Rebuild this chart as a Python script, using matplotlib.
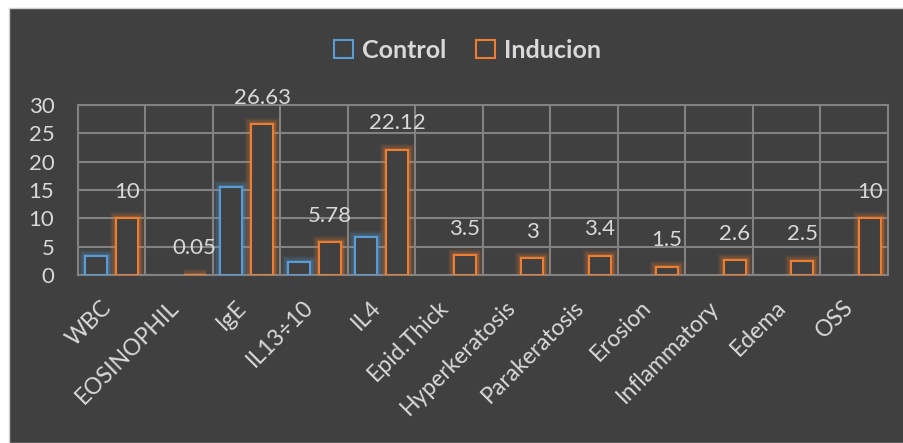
import numpy as np
import matplotlib
matplotlib.use('Agg')
from matplotlib import pyplot as plt
from matplotlib.patches import Patch, Rectangle
import matplotlib.patheffects as pe
import matplotlib.transforms as mtransforms

categories = ['WBC', 'EOSINOPHIL', 'IgE', 'IL13÷10', 'IL4', 'Epid.Thick',
              'Hyperkeratosis', 'Parakeratosis', 'Erosion', 'Inflammatory',
              'Edema', 'OSS']
control = [3.4, None, 15.6, 2.35, 6.7, None, None, None, None, None, None, None]
inducion = [10, 0.05, 26.63, 5.78, 22.12, 3.5, 3, 3.4, 1.5, 2.6, 2.5, 10]
inducion_labels = ['10', '0.05', '26.63', '5.78', '22.12', '3.5', '3', '3.4',
                   '1.5', '2.6', '2.5', '10']
yticks = [0, 5, 10, 15, 20, 25, 30]

BG = '#404040'
GRID = '#828282'
TXT = '#d9d9d9'
BLUE = '#5b9bd5'
ORANGE = '#ed7d31'

plt.rcParams['font.family'] = ['Lato', 'DejaVu Sans']

fig = plt.figure(figsize=(9.04, 4.43), dpi=100)
fig.patch.set_facecolor('white')
# dark chart panel with a thin light border on top / left
fig.patches.append(Rectangle((9 / 904, 0), 1, 1 - 8 / 443, transform=fig.transFigure,
                             facecolor=BG, edgecolor='#d0d0d0', linewidth=1.0, zorder=-10))

ax = fig.add_axes([78 / 904, 168 / 443, 810 / 904, 170 / 443])
ax.set_facecolor(BG)

x = np.arange(len(categories))
w = 0.33
off = 0.228

def glow(color):
    # soft glow like the office "glow" effect
    return [pe.Stroke(linewidth=9, foreground=color, alpha=0.10),
            pe.Stroke(linewidth=6, foreground=color, alpha=0.15),
            pe.Stroke(linewidth=3.5, foreground=color, alpha=0.25),
            pe.Normal()]

for i, v in enumerate(control):
    if v is None:
        continue
    ax.bar(x[i] - off, v, w, facecolor=BG, edgecolor=BLUE, linewidth=1.5,
           path_effects=glow(BLUE), zorder=3)
for i, v in enumerate(inducion):
    ax.bar(x[i] + off, v, w, facecolor=BG, edgecolor=ORANGE, linewidth=1.5,
           path_effects=glow(ORANGE), zorder=3)
    ax.annotate(inducion_labels[i], (x[i] + off, v), xytext=(0, 19),
                textcoords='offset points', ha='center', va='center',
                fontsize=16, color=TXT, zorder=4)

ax.set_xlim(-0.5, len(categories) - 0.5)
ax.set_ylim(0, 30)
ax.set_yticks(yticks)
ax.set_yticklabels([str(t) for t in yticks])
ax.set_xticks(x)
ax.set_xticklabels(categories, rotation=45, ha='right', va='center',
                   rotation_mode='anchor')
ax.set_xticks(np.arange(len(categories) + 1) - 0.5, minor=True)
ax.tick_params(axis='x', which='both', length=0, pad=21, labelsize=16.5, colors=TXT)
ax.tick_params(axis='y', length=0, pad=17, labelsize=16, colors=TXT)
ax.grid(True, axis='y', color=GRID, linewidth=1.5, zorder=0)
ax.grid(True, axis='x', which='minor', color=GRID, linewidth=1.5, zorder=0)
ax.grid(False, axis='x', which='major')
ax.set_axisbelow(True)
for s in ax.spines.values():
    s.set_color(GRID)
    s.set_linewidth(1.5)

# nudge the slanted labels a little to the left
shift = mtransforms.ScaledTranslation(-4 / 100, 0, fig.dpi_scale_trans)
for lbl in ax.get_xticklabels():
    lbl.set_transform(lbl.get_transform() + shift)

handles = [Patch(facecolor='none', edgecolor=BLUE, linewidth=1.5, label='Control'),
           Patch(facecolor='none', edgecolor=ORANGE, linewidth=1.5, label='Inducion')]
leg = fig.legend(handles=handles, loc='center', bbox_to_anchor=(0.517, 0.887),
                 ncol=2, frameon=False, handlelength=0.75, handleheight=0.75,
                 handletextpad=0.35, columnspacing=1.2,
                 prop={'size': 18, 'weight': 'bold'})
for t in leg.get_texts():
    t.set_color(TXT)

fig.savefig('out.png', dpi=100, facecolor=fig.get_facecolor())
